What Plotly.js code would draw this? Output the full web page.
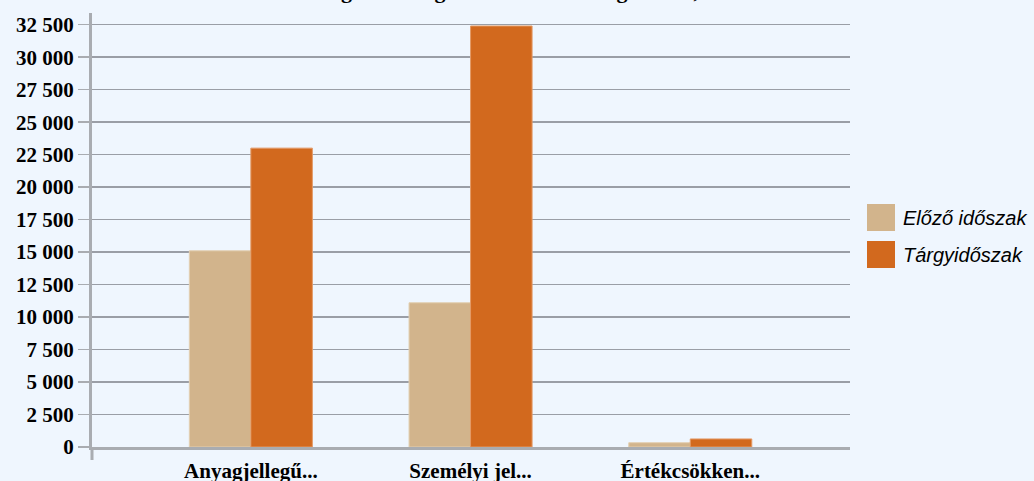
<!DOCTYPE html>
<html>
<head>
<meta charset="utf-8">
<script src="https://cdn.plot.ly/plotly-3.0.1.min.js"></script>
<style>html,body{margin:0;padding:0;background:#eff6fe;}#chart{width:1034px;height:481px;}</style>
</head>
<body>
<div id="chart"></div>
<script>
const categories = ["Anyagjellegű...", "Személyi jel...", "Értékcsökken..."];
const seriesNames = ["Előző időszak", "Tárgyidőszak"];
const prevValues = [15100, 11100, 330];
const currValues = [23000, 32400, 620];
const tickValues = [0, 2500, 5000, 7500, 10000, 12500, 15000, 17500, 20000, 22500, 25000, 27500, 30000, 32500];
const titleText = "Költségek költségnemek szerinti megoszlása, ezer forint";

const colors = ["#d2b48c", "#d2691e"];
const edgeColors = ["#e2cfb2", "#e39a66"];
const seriesValues = [prevValues, currValues];

const traces = seriesValues.map((vals, i) => ({
  type: "bar", name: seriesNames[i], x: categories, y: vals, showlegend: false,
  marker: {color: colors[i], line: {color: edgeColors[i], width: 1}}
}));

const plotL = 92, plotR = 850, plotT = 13, plotB = 447;
const px2x = p => (p - plotL) / (plotR - plotL);
const py2y = p => (plotB - p) / (plotB - plotT);
const legendTops = [204, 241];
const shapes = [{type: "line", xref: "paper", yref: "paper", x0: 0, x1: 0, y0: 0, y1: -0.03,
                 line: {color: "#a9acb1", width: 3}}];
const annotations = [{xref: "paper", yref: "paper", x: px2x(542), y: py2y(5), xanchor: "center", yanchor: "bottom",
                      showarrow: false, text: titleText,
                      font: {family: "Liberation Serif", size: 22, color: "#000", weight: "bold"}}];
seriesNames.forEach((n, i) => {
  const t = legendTops[i];
  shapes.push({type: "rect", xref: "paper", yref: "paper", x0: px2x(867), x1: px2x(895),
               y0: py2y(t + 27), y1: py2y(t), fillcolor: colors[i], line: {width: 0}});
  annotations.push({xref: "paper", yref: "paper", x: px2x(901), y: py2y(t + 14), xanchor: "left", yanchor: "middle",
                    showarrow: false, text: n, font: {family: "Liberation Sans", size: 20, color: "#000", style: "italic"}});
});

const layout = {
  width: 1034, height: 481,
  paper_bgcolor: "#eff6fe", plot_bgcolor: "#eff6fe",
  margin: {l: plotL, r: 1034 - plotR, t: plotT, b: 481 - plotB, pad: 0},
  separators: ", ",
  barmode: "group", bargap: 0.44, bargroupgap: 0,
  showlegend: false,
  xaxis: {range: [-0.723, 2.727], showgrid: false, showline: true, linecolor: "#a9acb1", linewidth: 3,
          ticks: "", ticklabelstandoff: 3,
          tickfont: {family: "Liberation Serif", size: 21, color: "#000", weight: "bold"}},
  yaxis: {range: [0, 33400], tickvals: tickValues, tickformat: ",d", showgrid: true, gridcolor: "#9a9ea6", gridwidth: 1.5,
          showline: true, linecolor: "#a9acb1", linewidth: 3, ticks: "outside", ticklen: 11, tickcolor: "#a9acb1", tickwidth: 1.5,
          zeroline: false, tickfont: {family: "Liberation Serif", size: 21, color: "#000", weight: "bold"}},
  shapes: shapes,
  annotations: annotations
};

Plotly.newPlot("chart", traces, layout, {displayModeBar: false, staticPlot: true});
</script>
</body>
</html>
